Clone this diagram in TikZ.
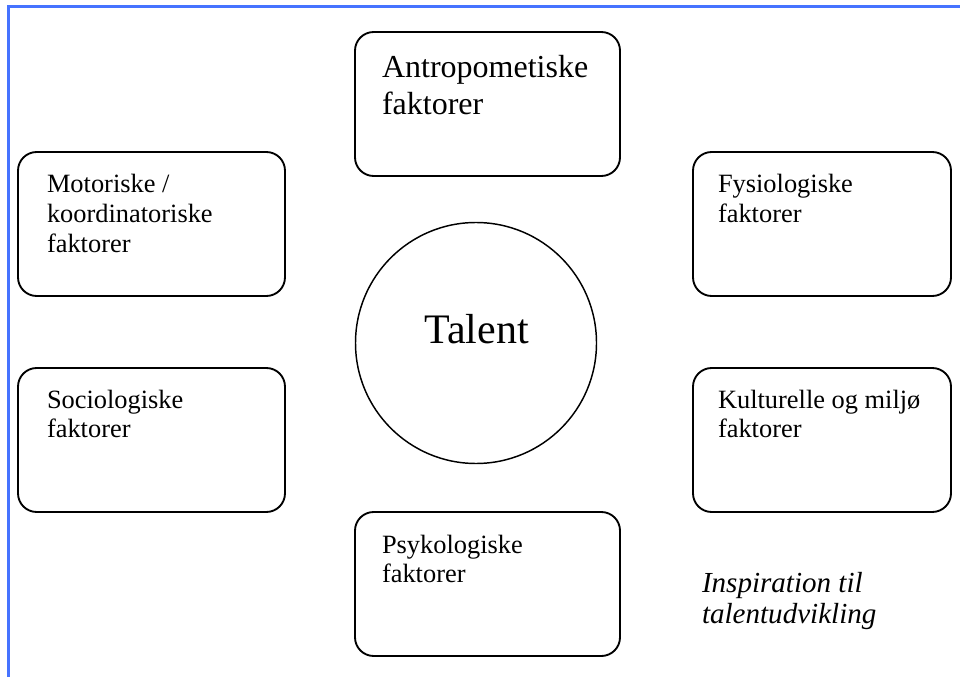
\documentclass[tikz,border=0pt]{standalone}
\usepackage{fontspec}
\setmainfont{Liberation Serif}
\definecolor{frameblue}{RGB}{70,115,255}
\begin{document}
\begin{tikzpicture}[x=0.75pt,y=-0.75pt,
  factorbox/.style={draw=black,line width=1.4pt,rounded corners=14pt,
    rectangle,inner sep=0pt,outer sep=0pt,minimum height=108pt},
  boxtext/.style={anchor=base west,inner sep=0pt,outer sep=0pt},
  hubcircle/.style={draw=black,line width=1.1pt,circle,inner sep=0pt,
    minimum size=180.75pt},
  frameline/.style={draw=frameblue,line width=1.8pt}]
\useasboundingbox (0,0) rectangle (960,677);

% page frame (top and left edges)
\coordinate (ftl) at (8.5,6.5);
\coordinate (ftr) at (960,6.5);
\coordinate (fbl) at (8.5,677);
\draw[frameline] (ftr) -- (ftl) -- (fbl);

% central circle
\node[hubcircle] (hub) at (476,343) {};
\node[anchor=base,inner sep=0pt] (hubtxt) at (476.5,343)
  {\fontsize{31.5}{36}\selectfont Talent};

% factor boxes
\node[factorbox,minimum width=198.75pt] (antro) at (487.5,104) {};
\node[factorbox,minimum width=200.25pt] (motor) at (151.5,224) {};
\node[factorbox,minimum width=193.5pt]  (fysio) at (822,224) {};
\node[factorbox,minimum width=200.25pt] (socio) at (151.5,440) {};
\node[factorbox,minimum width=193.5pt]  (kultur) at (822,440) {};
\node[factorbox,minimum width=198.75pt] (psyk) at (487.5,584) {};

% box labels
\node[boxtext] (antrotxt) at (382,78) {\parbox[t]{180pt}{\raggedright
  \fontsize{24}{27.75}\selectfont Antropometiske\\faktorer}};
\node[boxtext] (motortxt) at (47,193) {\parbox[t]{180pt}{\raggedright
  \fontsize{19.8}{22.4}\selectfont Motoriske /\\koordinatoriske\\faktorer}};
\node[boxtext] (fysiotxt) at (718,193) {\parbox[t]{180pt}{\raggedright
  \fontsize{19.8}{22}\selectfont Fysiologiske\\faktorer}};
\node[boxtext] (sociotxt) at (47,408) {\parbox[t]{180pt}{\raggedright
  \fontsize{19.8}{22}\selectfont Sociologiske\\faktorer}};
\node[boxtext] (kulturtxt) at (718,408) {\parbox[t]{180pt}{\raggedright
  \fontsize{19.8}{22}\selectfont Kulturelle og miljø\\faktorer}};
\node[boxtext] (psyktxt) at (382,553) {\parbox[t]{180pt}{\raggedright
  \fontsize{19.8}{22}\selectfont Psykologiske\\faktorer}};

% caption
\node[boxtext] (caption) at (702,592) {\parbox[t]{180pt}{\raggedright
  \fontsize{21.8}{23.25}\selectfont\itshape Inspiration til\\talentudvikling}};
\end{tikzpicture}
\end{document}
